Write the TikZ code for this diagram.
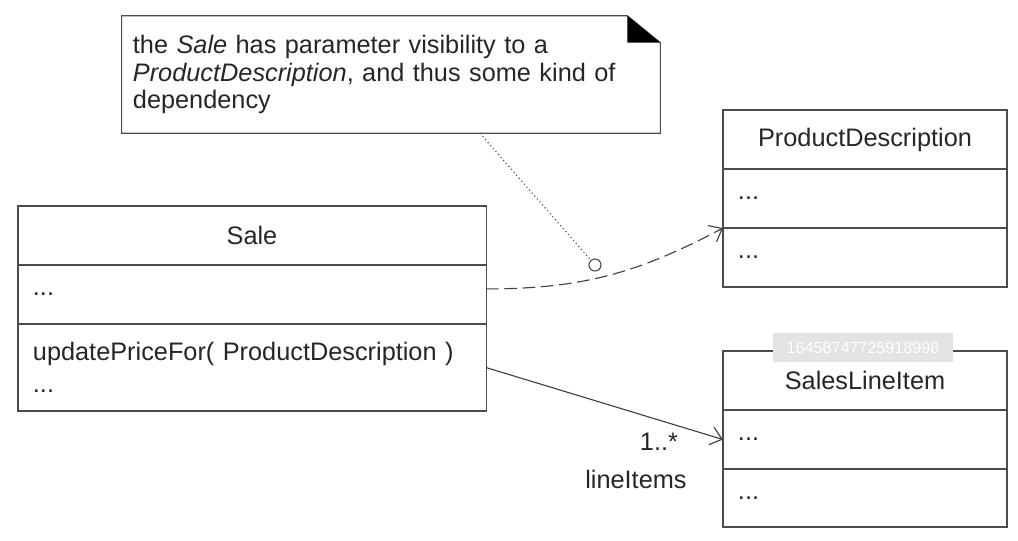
\documentclass[tikz,border=0pt]{standalone}
\usepackage{fontspec}
\setmainfont{Liberation Sans}
\usetikzlibrary{positioning,arrows.meta}

\tikzset{
  umltitle/.style={draw=black!70, thick, outer sep=0pt, inner sep=0pt, minimum height=1.475cm},
  umlpart/.style={draw=black!70, thick, outer sep=0pt, inner xsep=0.375cm, inner ysep=0pt,
    minimum height=1.475cm, align=left},
  openarrow/.style={-{Straight Barb[length=8pt,width=13pt]}, black!75, thick},
}

\begin{document}
\begin{tikzpicture}[x=0.025cm, y=-0.025cm, font=\fontsize{18}{19.5}\selectfont, text=black!85]
  \useasboundingbox (0,0) rectangle (1018,540);

  %note
  \node[text width=12.9cm, minimum height=2.925cm, inner xsep=0.275cm, align=left] (note) at (391,74.5)
    {the \textit{Sale} has parameter visibility to a\\
     \textit{ProductDescription}, and thus some kind of\\
     dependency};
  \draw[black!70, thick] (note.north west) -- ([xshift=-0.825cm]note.north east)
    -- ([yshift=-0.675cm]note.north east) -- (note.south east) -- (note.south west) -- cycle;
  \fill[black] ([xshift=-0.825cm]note.north east) -- ([yshift=-0.675cm]note.north east)
    -- ([xshift=-0.825cm,yshift=-0.675cm]note.north east) -- cycle;

  %class Sale
  \node[umltitle, minimum width=11.7cm] (saletitle) at (252,235.5) {Sale};
  \node[umlpart, text width=10.95cm, below=0pt of saletitle] (saleattr) {...};
  \node[umlpart, text width=10.95cm, minimum height=2.175cm, below=0pt of saleattr] (saleops)
    {updatePriceFor( ProductDescription )\\[3pt] ...};

  %class ProductDescription
  \node[umltitle, minimum width=7.1cm] (pdtitle) at (865,139.5) {ProductDescription};
  \node[umlpart, text width=6.35cm, below=0pt of pdtitle] (pdattr) {...};
  \node[umlpart, text width=6.35cm, below=0pt of pdattr] (pdops) {...};

  %class SalesLineItem
  \node[umltitle, minimum width=7.1cm] (slititle) at (865,380.5) {SalesLineItem};
  \node[umlpart, text width=6.35cm, below=0pt of slititle] (sliattr) {...};
  \node[umlpart, text width=6.35cm, minimum height=1.45cm, below=0pt of sliattr] (sliops) {...};

  %dependency
  \draw[openarrow, dash pattern=on 9pt off 4pt] ([yshift=0.14cm]saleattr.east)
    to[out=0, in=208] (pdattr.south west);

  %note anchor
  \node[circle, draw=black!70, thick, minimum size=0.3cm, inner sep=0pt] (pin) at (595,265) {};
  \coordinate (notefoot) at ([xshift=2.225cm]note.south);
  \draw[black!70, dotted, thick] (notefoot) -- (pin);

  %association
  \draw[openarrow] (saleops.east) -- (sliattr.west);
  \node (mult) at ([xshift=-1.6cm,yshift=-0.05cm]sliattr.west) {1..*};
  \node (role) at ([xshift=-2.175cm,yshift=-1.0cm]sliattr.west) {lineItems};

  %watermark
  \node[fill=gray!22, text=white, font=\fontsize{11.5}{12}\selectfont, minimum width=4.5cm,
    minimum height=0.725cm] (stamp) at (863,347.5) {16458747725918998};
\end{tikzpicture}
\end{document}
